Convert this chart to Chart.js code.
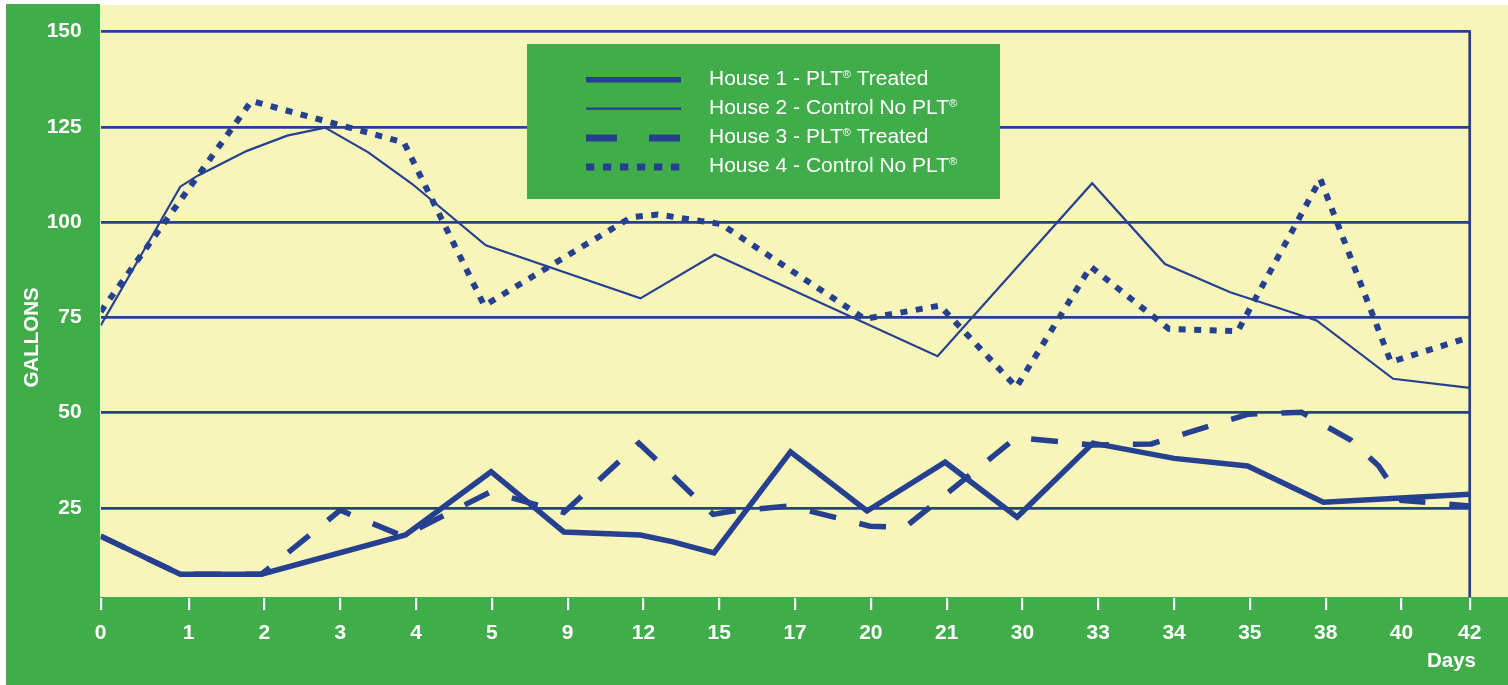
<!DOCTYPE html>
<html>
<head>
<meta charset="utf-8">
<title>Water consumption by house</title>
<script src="https://cdn.jsdelivr.net/npm/chart.js@4/dist/chart.umd.min.js"></script>
<style>
  html, body { margin: 0; padding: 0; background: #ffffff; overflow: hidden; }
  canvas { display: block; }
</style>
</head>
<body>
<canvas id="chart" width="1508" height="685"></canvas>
<script>
// Day labels along the bottom axis (one slot per label)
const dayLabels = ['0', '1', '2', '3', '4', '5', '9', '12', '15', '17', '20', '21', '30', '33', '34', '35', '38', '40', '42'];

// Gallon gridlines
const gallonTicks = [25, 50, 75, 100, 125, 150];

// Each series: [slot position along the day axis, gallons]
const house1 = [
  [0, 17.6], [0.89, 7.6], [1.96, 7.6], [3.86, 17.9], [4.99, 34.5], [5.95, 18.7],
  [6.96, 17.9], [7.39, 16.1], [7.93, 13.2], [8.94, 39.7], [9.95, 24.2], [10.98, 37.0],
  [11.93, 22.6], [12.93, 42.0], [14.0, 38.0], [14.97, 36.0], [15.97, 26.5], [18, 28.6]
];
const house2 = [
  [0, 72.9], [0.89, 109.3], [1.12, 112.2], [1.77, 118.7], [2.30, 122.7], [2.80, 124.8],
  [3.37, 118.3], [3.95, 110.0], [4.92, 93.9], [6.96, 80.0], [7.94, 91.5], [10.88, 64.8],
  [12.92, 110.2], [13.88, 89.0], [14.74, 81.6], [15.88, 74.2], [16.89, 58.9], [18, 56.5]
];
const house3 = [
  [0, 17.6], [0.89, 7.6], [1.96, 7.6], [3.0, 24.4], [3.83, 17.6], [4.98, 29.2],
  [5.95, 23.8], [6.94, 42.0], [7.92, 23.3], [8.18, 24.2], [8.93, 25.5], [9.99, 20.2],
  [10.45, 19.9], [11.92, 43.5], [12.93, 41.5], [13.7, 41.8], [14.98, 49.6], [15.68, 50.1],
  [16.33, 42.8], [16.7, 36.0], [17.0, 27.0], [18, 25.5]
];
const house4 = [
  [0, 76.5], [1.83, 131.8], [3.84, 120.9], [4.90, 78.1], [6.84, 101.3], [7.19, 102.0],
  [8.02, 99.5], [9.92, 74.6], [10.91, 78.1], [11.92, 56.7], [12.90, 88.3], [13.93, 72.0],
  [14.84, 71.4], [15.93, 111.3], [16.86, 63.3], [18, 69.8]
];

const BLUE = '#25408f';
const GREEN = '#41ad4a';
const YELLOW = '#f8f5bb';
const WHITE = '#ffffff';

// The first and last day sit on the plot edges; the inner days are evenly spaced.
const LAST_SLOT = dayLabels.length - 1;
const AXIS_MIN = -0.16;
const AXIS_MAX = 17.9;
function slotToAxis(s) {
  if (s <= 0) return AXIS_MIN;
  if (s >= LAST_SLOT) return AXIS_MAX;
  return s;
}
const toPoints = (series) => series.map(([s, g]) => ({ x: slotToAxis(s), y: g }));

const seriesStyles = [
  { label: 'House 1 - PLT® Treated', data: house1, width: 5.5, dash: [], legendWidth: 5.5, legendDash: [] },
  { label: 'House 2 - Control No PLT®', data: house2, width: 2.2, dash: [], legendWidth: 2.2, legendDash: [] },
  { label: 'House 3 - PLT® Treated', data: house3, width: 5.5, dash: [27, 24], legendWidth: 7, legendDash: [31, 32] },
  { label: 'House 4 - Control No PLT®', data: house4, width: 6, dash: [7, 8.5], legendWidth: 7, legendDash: [8.3, 8.7] }
];

const FONT = "'Liberation Sans', Arial, Helvetica, sans-serif";

// Panels behind the plot, the frame line on the right, tick marks, titles and legend
const decorations = {
  id: 'decorations',
  beforeDraw(chart) {
    const ctx = chart.ctx;
    ctx.save();
    ctx.fillStyle = WHITE;
    ctx.fillRect(0, 0, chart.width, chart.height);
    ctx.fillStyle = GREEN;
    ctx.fillRect(6, 4, 94, chart.height - 4);
    ctx.fillRect(6, 597, chart.width - 6, chart.height - 597);
    ctx.fillStyle = YELLOW;
    ctx.fillRect(100, 5, chart.width - 100, 592);
    ctx.restore();
  },
  beforeDatasetsDraw(chart) {
    const ctx = chart.ctx;
    const area = chart.chartArea;
    ctx.save();
    ctx.strokeStyle = BLUE;
    ctx.lineWidth = 2.7;
    ctx.beginPath();
    ctx.moveTo(area.right, area.top - 1.35);
    ctx.lineTo(area.right, 597);
    ctx.stroke();
    ctx.restore();
  },
  afterDraw(chart) {
    const ctx = chart.ctx;
    const xs = chart.scales.x;
    ctx.save();

    // white tick marks under the plot
    ctx.strokeStyle = WHITE;
    ctx.lineWidth = 2.2;
    xs.ticks.forEach((t) => {
      const px = Math.round(xs.getPixelForValue(t.value)) + 0.1;
      ctx.beginPath();
      ctx.moveTo(px, 598);
      ctx.lineTo(px, 610);
      ctx.stroke();
    });

    // axis titles
    ctx.fillStyle = WHITE;
    ctx.font = 'bold 20.5px ' + FONT;
    ctx.textAlign = 'right';
    ctx.textBaseline = 'middle';
    ctx.fillText('Days', 1476, 661);

    ctx.save();
    ctx.translate(32.5, 337.5);
    ctx.rotate(-Math.PI / 2);
    ctx.textAlign = 'center';
    ctx.fillText('GALLONS', 0, 0);
    ctx.restore();

    // legend panel
    ctx.fillStyle = GREEN;
    ctx.fillRect(527, 44, 473, 155);
    const rowY = [77.7, 106.7, 136, 165];
    chart.data.datasets.forEach((ds, i) => {
      const y = rowY[i];
      ctx.strokeStyle = BLUE;
      ctx.lineWidth = ds.legendWidth;
      ctx.lineCap = 'butt';
      ctx.setLineDash(ds.legendDash);
      ctx.beginPath();
      ctx.moveTo(586, y + 2);
      ctx.lineTo(681, y + 2);
      ctx.stroke();
      ctx.setLineDash([]);

      // label text, with the registered mark set small and raised
      const parts = ds.label.split('®');
      let x = 709;
      const base = y + 7.4;
      ctx.fillStyle = WHITE;
      ctx.textAlign = 'left';
      ctx.textBaseline = 'alphabetic';
      parts.forEach((part, k) => {
        ctx.font = '21px ' + FONT;
        ctx.fillText(part, x, base);
        x += ctx.measureText(part).width;
        if (k < parts.length - 1) {
          ctx.font = '11px ' + FONT;
          ctx.fillText('®', x, base - 7.5);
          x += ctx.measureText('®').width;
        }
      });
    });
    ctx.restore();
  }
};

new Chart(document.getElementById('chart'), {
  type: 'line',
  data: {
    datasets: seriesStyles.map((s) => ({
      label: s.label,
      data: toPoints(s.data),
      borderColor: BLUE,
      backgroundColor: BLUE,
      borderWidth: s.width,
      borderDash: s.dash,
      borderCapStyle: 'butt',
      borderJoinStyle: 'miter',
      pointRadius: 0,
      pointHoverRadius: 0,
      tension: 0,
      fill: false,
      legendWidth: s.legendWidth,
      legendDash: s.legendDash
    }))
  },
  options: {
    responsive: false,
    animation: false,
    events: [],
    layout: { padding: { top: 30.6, right: 38.3, left: 0, bottom: 0 } },
    plugins: {
      legend: { display: false },
      tooltip: { enabled: false },
      title: { display: false }
    },
    scales: {
      x: {
        type: 'linear',
        min: AXIS_MIN,
        max: AXIS_MAX,
        grid: { display: false, drawTicks: false },
        border: { display: false },
        afterBuildTicks(scale) {
          scale.ticks = dayLabels.map((d, i) => ({ value: slotToAxis(i) }));
        },
        afterFit(scale) { scale.height = 81.8; },
        ticks: {
          autoSkip: false,
          maxRotation: 0,
          minRotation: 0,
          padding: 17,
          color: WHITE,
          font: { family: FONT, size: 21, weight: 'bold' },
          callback: (value, index) => dayLabels[index]
        }
      },
      y: {
        min: 0,
        max: 150,
        grid: { color: BLUE, lineWidth: 2.7, drawTicks: false },
        border: { display: false },
        afterBuildTicks(scale) {
          scale.ticks = gallonTicks.map((v) => ({ value: v }));
        },
        afterFit(scale) { scale.width = 100.7; },
        ticks: {
          padding: 19,
          color: WHITE,
          font: { family: FONT, size: 21, weight: 'bold' }
        }
      }
    }
  },
  plugins: [decorations]
});
</script>
</body>
</html>
